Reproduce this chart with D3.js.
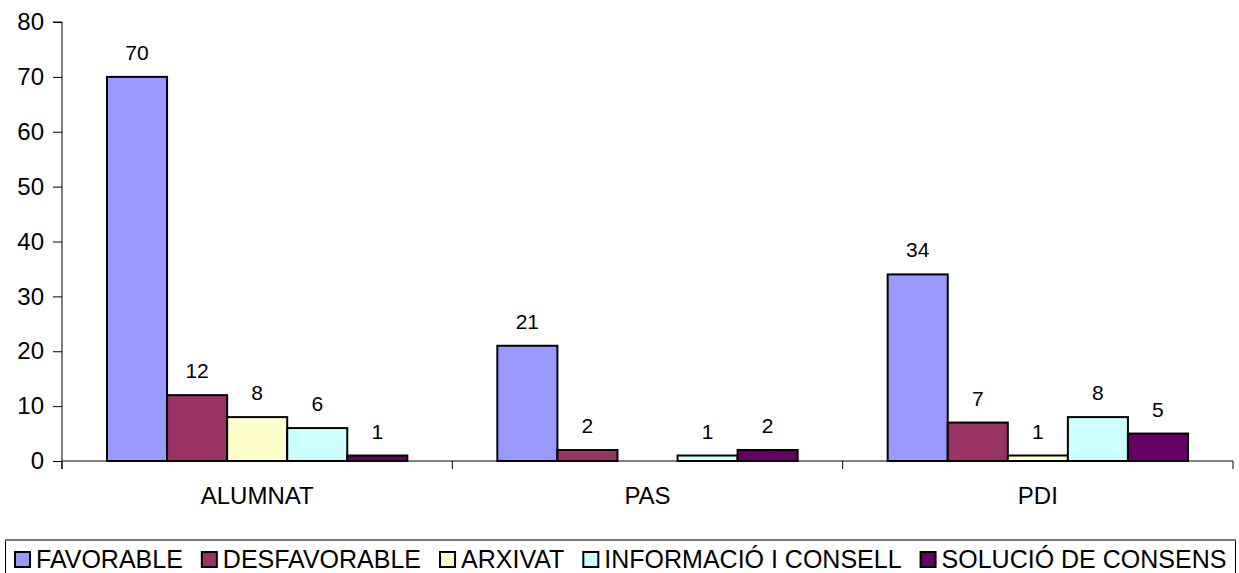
<!DOCTYPE html>
<html><head><meta charset="utf-8">
<script src="https://cdn.jsdelivr.net/npm/d3@7"></script>
<style>body{margin:0;background:#fff}svg{display:block}text{font-family:"Liberation Sans",Arial,sans-serif;fill:#000}</style>
</head><body><svg id="c" width="1239" height="573"></svg>
<script>
const categories = ["ALUMNAT", "PAS", "PDI"];
const seriesNames = ["FAVORABLE", "DESFAVORABLE", "ARXIVAT", "INFORMACIÓ I CONSELL", "SOLUCIÓ DE CONSENS"];
const favorable = [70, 21, 34];
const desfavorable = [12, 2, 7];
const arxivat = [8, null, 1];
const informacio = [6, 1, 8];
const solucio = [1, 2, 5];
const colors = ["#9999FF", "#993366", "#FFFFCC", "#CCFFFF", "#660066"];
const yTicks = [0, 10, 20, 30, 40, 50, 60, 70, 80];

const seriesVals = [favorable, desfavorable, arxivat, informacio, solucio];
const svg = d3.select("#c");
const x0 = d3.scaleBand().domain(categories).range([62, 1233]).paddingInner(0).paddingOuter(0);
const x1 = d3.scaleBand().domain(seriesNames).range([45, x0.bandwidth() - 45]).padding(0);
const y = d3.scaleLinear().domain([0, 80]).range([461, 22]);

// y axis
const ya = svg.append("g").attr("transform", "translate(62,0)")
  .call(d3.axisLeft(y).tickValues(yTicks).tickSize(9).tickPadding(9).tickFormat(d3.format("d")));
ya.select(".domain").attr("stroke", "#000").attr("d", `M-9,${y(80)}H0V${y(0)+8}`);
ya.selectAll(".tick line").attr("stroke", "#000");
ya.selectAll(".tick text").style("font-size", "24px").attr("font-family", null);

// bars
const g = svg.append("g");
categories.forEach((c, ci) => {
  seriesNames.forEach((s, si) => {
    const v = seriesVals[si][ci];
    if (v === null) return;
    const bx = x0(c) + x1(s);
    g.append("rect").attr("x", bx).attr("y", y(v)).attr("width", x1.bandwidth())
      .attr("height", y(0) - y(v)).attr("fill", colors[si]).attr("stroke", "#000").attr("stroke-width", 2);
    g.append("text").attr("x", bx + x1.bandwidth() / 2).attr("y", y(v) - 17)
      .attr("text-anchor", "middle").style("font-size", "21px").text(v);
  });
});

// x axis
const xa = svg.append("g").attr("transform", `translate(0,${y(0)})`);
xa.append("line").attr("x1", 62).attr("x2", 1233).attr("stroke", "#000");
const bounds = [x0.range()[0]].concat(categories.map(c => x0(c) + x0.bandwidth()));
bounds.forEach(b => xa.append("line").attr("x1", b).attr("x2", b).attr("y1", 0).attr("y2", 8).attr("stroke", "#000"));
categories.forEach(c => xa.append("text").attr("x", x0(c) + x0.bandwidth() / 2).attr("y", 43)
  .attr("text-anchor", "middle").style("font-size", "24px").text(c));

// legend
const lg = svg.append("g");
lg.append("rect").attr("x", 5.5).attr("y", 540).attr("width", 1230).attr("height", 60)
  .attr("fill", "#fff").attr("stroke", "#000").attr("stroke-width", 1);
lg.append("line").attr("x1", 5).attr("x2", 1236).attr("y1", 540).attr("y2", 540).attr("stroke", "#777").attr("stroke-width", 2);
let lx = 15;
seriesNames.forEach((s, si) => {
  lg.append("rect").attr("x", lx).attr("y", 552).attr("width", 15).attr("height", 15)
    .attr("fill", colors[si]).attr("stroke", "#000").attr("stroke-width", 2);
  const t = lg.append("text").attr("x", lx + 21).attr("y", 568).style("font-size", "25px").text(s);
  lx = lx + 21 + t.node().getComputedTextLength() + 19;
});
</script></body></html>
